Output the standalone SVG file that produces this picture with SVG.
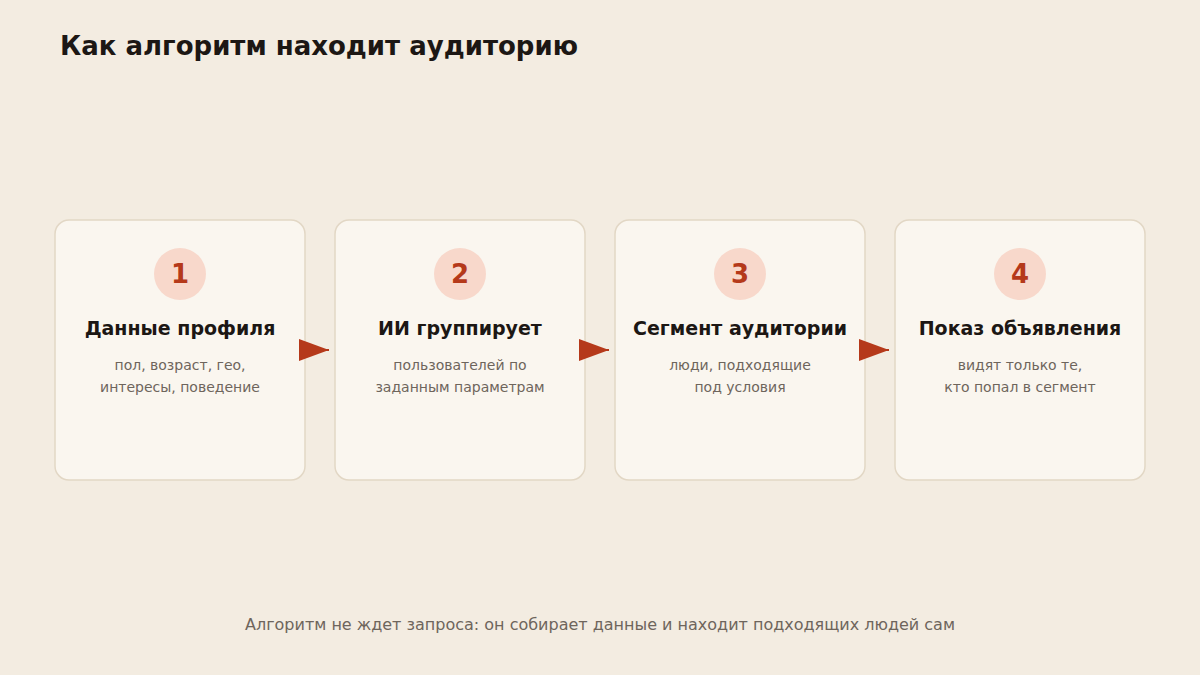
<svg xmlns="http://www.w3.org/2000/svg" width="1200" height="675" viewBox="0 0 1200 675">
<defs>
<style>
.card{fill:#faf6ef;stroke:#e2d7c5;stroke-width:1.5}
.badge{fill:#f8d8cb}
.num{font-family:"DejaVu Sans",sans-serif;font-weight:bold;font-size:26px;fill:#b5391a;text-anchor:middle}
.ttl{font-family:"DejaVu Sans",sans-serif;font-weight:bold;font-size:19px;fill:#1c1714;text-anchor:middle}
.dsc{font-family:"DejaVu Sans",sans-serif;font-size:14px;fill:#6e655c;text-anchor:middle}
.conn{stroke:#b5391a;stroke-width:2;fill:none}
</style>
<marker id="ah" viewBox="0 0 30 22" refX="30" refY="11" markerWidth="30" markerHeight="22" markerUnits="userSpaceOnUse" orient="auto">
<path d="M0,0 L30,11 L0,22 Z" fill="#b5391a"/>
</marker>
</defs>
<rect width="1200" height="675" fill="#f3ece1"/>
<text x="60" y="55" font-family="DejaVu Sans, sans-serif" font-weight="bold" font-size="26" fill="#1c1714">Как алгоритм находит аудиторию</text>
<g id="node1">
<rect class="card" x="55" y="220" width="250" height="260" rx="14"/>
<circle class="badge" cx="180" cy="274" r="26"/>
<text class="num" x="180" y="283">1</text>
<text class="ttl" x="180" y="335">Данные профиля</text>
<text class="dsc" x="180" y="370">пол, возраст, гео,</text>
<text class="dsc" x="180" y="392">интересы, поведение</text>
</g>
<g id="node2">
<rect class="card" x="335" y="220" width="250" height="260" rx="14"/>
<circle class="badge" cx="460" cy="274" r="26"/>
<text class="num" x="460" y="283">2</text>
<text class="ttl" x="460" y="335">ИИ группирует</text>
<text class="dsc" x="460" y="370">пользователей по</text>
<text class="dsc" x="460" y="392">заданным параметрам</text>
</g>
<g id="node3">
<rect class="card" x="615" y="220" width="250" height="260" rx="14"/>
<circle class="badge" cx="740" cy="274" r="26"/>
<text class="num" x="740" y="283">3</text>
<text class="ttl" x="740" y="335">Сегмент аудитории</text>
<text class="dsc" x="740" y="370">люди, подходящие</text>
<text class="dsc" x="740" y="392">под условия</text>
</g>
<g id="node4">
<rect class="card" x="895" y="220" width="250" height="260" rx="14"/>
<circle class="badge" cx="1020" cy="274" r="26"/>
<text class="num" x="1020" y="283">4</text>
<text class="ttl" x="1020" y="335">Показ объявления</text>
<text class="dsc" x="1020" y="370">видят только те,</text>
<text class="dsc" x="1020" y="392">кто попал в сегмент</text>
</g>
<g id="connectors">
<line class="conn" x1="305" y1="350" x2="329" y2="350" marker-end="url(#ah)"/>
<line class="conn" x1="585" y1="350" x2="609" y2="350" marker-end="url(#ah)"/>
<line class="conn" x1="865" y1="350" x2="889" y2="350" marker-end="url(#ah)"/>
</g>
<text x="600" y="630" font-family="DejaVu Sans, sans-serif" font-size="16" fill="#6e655c" text-anchor="middle">Алгоритм не ждет запроса: он собирает данные и находит подходящих людей сам</text>
</svg>
